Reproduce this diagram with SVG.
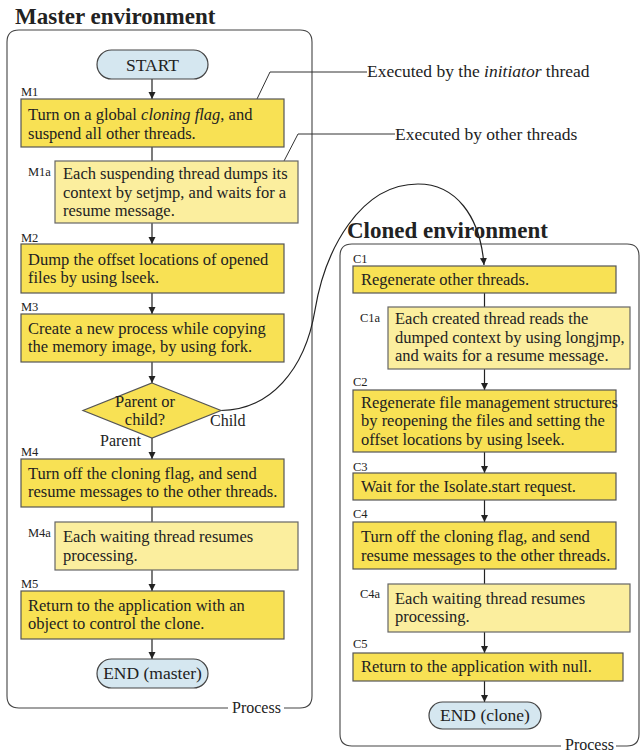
<svg xmlns="http://www.w3.org/2000/svg" width="640" height="754" viewBox="0 0 640 754" font-family="'Liberation Serif', Tinos, 'Times New Roman', serif">
<style>
text{font-family:"Liberation Serif",Tinos,"Times New Roman",serif;fill:#222}
.t{font-size:16.5px}
.lb{font-size:12.5px}
.h{font-size:23px;font-weight:bold}
.term{font-size:17.5px}
.co{font-size:17.5px}
.pr{font-size:16px}
.box{fill:#f8e154;stroke:#555;stroke-width:1.2}
.sub{fill:#fbee9e;stroke:#666;stroke-width:1.2}
.tm{fill:#d5e7f0;stroke:#444;stroke-width:1.2}
.env{fill:none;stroke:#444;stroke-width:1.1}
.ln{fill:none;stroke:#222;stroke-width:1.2}
.ar{fill:none;stroke:#222;stroke-width:1.2;marker-end:url(#a)}
.cl{fill:none;stroke:#333;stroke-width:1}
</style>
<defs>
<marker id="a" viewBox="0 0 10 10" refX="10" refY="5" markerWidth="7" markerHeight="9" markerUnits="userSpaceOnUse" orient="auto">
<path d="M0,0 L10,5 L0,10 z" fill="#222"/>
</marker>
</defs>
<rect width="640" height="754" fill="#fff"/>

<g id="master-env">
<text class="h" x="15" y="24">Master environment</text>
<path class="env" d="M228,708 H19 Q7,708 7,696 V42 Q7,30 19,30 H300 Q312,30 312,42 V696 Q312,708 300,708 H284"/>
<text class="pr" x="232" y="713">Process</text>
</g>

<g id="cloned-env">
<text class="h" x="347" y="238">Cloned environment</text>
<path class="env" d="M561,746 H352 Q340,746 340,734 V256 Q340,244 352,244 H627 Q639,244 639,256 V734 Q639,746 627,746 H616"/>
<text class="pr" x="565" y="750">Process</text>
</g>

<g id="connectors">
<line class="ar" x1="152" y1="79" x2="152" y2="99"/>
<line class="ln" x1="152" y1="147" x2="152" y2="161"/>
<line class="ar" x1="152" y1="223" x2="152" y2="244"/>
<line class="ar" x1="152" y1="293" x2="152" y2="314"/>
<line class="ar" x1="152" y1="362" x2="152" y2="383"/>
<line class="ar" x1="152" y1="438" x2="152" y2="459"/>
<line class="ln" x1="152" y1="507" x2="152" y2="522"/>
<line class="ar" x1="152" y1="570" x2="152" y2="591"/>
<line class="ar" x1="152" y1="639" x2="152" y2="659"/>
<line class="ln" x1="484.5" y1="293" x2="484.5" y2="307"/>
<line class="ar" x1="484.5" y1="369" x2="484.5" y2="390"/>
<line class="ar" x1="484.5" y1="452" x2="484.5" y2="473"/>
<line class="ar" x1="484.5" y1="500" x2="484.5" y2="522"/>
<line class="ln" x1="484.5" y1="569" x2="484.5" y2="584"/>
<line class="ar" x1="484.5" y1="632" x2="484.5" y2="653"/>
<line class="ar" x1="484.5" y1="681" x2="484.5" y2="702"/>
<path class="ar" d="M221,410.5 C270,410 305,370 315,310 C325,250 360,184 418,184 C455,184 480,215 484,265"/>
<path class="cl" d="M257,99 L270,72 H367"/>
<path class="cl" d="M284,161 L298,134 H395"/>
<text class="pr" x="100" y="446">Parent</text>
<text class="pr" x="210" y="426">Child</text>
</g>

<g id="callouts">
<text class="co" x="367" y="77">Executed by the <tspan font-style="italic">initiator</tspan> thread</text>
<text class="co" x="395" y="140">Executed by other threads</text>
</g>

<g id="start">
<rect class="tm" x="97" y="50" width="111" height="29" rx="14.5"/>
<text class="term" x="152.5" y="71" text-anchor="middle">START</text>
</g>

<g id="M1">
<text class="lb" x="21" y="96">M1</text>
<rect class="box" x="21" y="99" width="263" height="48"/>
<text class="t" x="28" y="120">Turn on a global <tspan font-style="italic">cloning flag</tspan>, and</text>
<text class="t" x="28" y="139">suspend all other threads.</text>
</g>

<g id="M1a">
<text class="lb" x="28" y="176">M1a</text>
<rect class="sub" x="55" y="161" width="243" height="62"/>
<text class="t" x="63" y="179">Each suspending thread dumps its</text>
<text class="t" x="63" y="198">context by setjmp, and waits for a</text>
<text class="t" x="63" y="216">resume message.</text>
</g>

<g id="M2">
<text class="lb" x="21" y="242">M2</text>
<rect class="box" x="21" y="244" width="263" height="49"/>
<text class="t" x="28" y="265">Dump the offset locations of opened</text>
<text class="t" x="28" y="283">files by using lseek.</text>
</g>

<g id="M3">
<text class="lb" x="21" y="311">M3</text>
<rect class="box" x="21" y="314" width="263" height="48"/>
<text class="t" x="28" y="334">Create a new process while copying</text>
<text class="t" x="28" y="352">the memory image, by using fork.</text>
</g>

<g id="decision">
<path class="box" d="M152,383 L221,410.5 L152,438 L83,410.5 Z"/>
<text class="t" x="145" y="407" text-anchor="middle">Parent or</text>
<text class="t" x="145" y="425" text-anchor="middle">child?</text>
</g>

<g id="M4">
<text class="lb" x="21" y="456">M4</text>
<rect class="box" x="21" y="459" width="263" height="48"/>
<text class="t" x="28" y="479">Turn off the cloning flag, and send</text>
<text class="t" x="28" y="497">resume messages to the other threads.</text>
</g>

<g id="M4a">
<text class="lb" x="28" y="537">M4a</text>
<rect class="sub" x="55" y="522" width="243" height="48"/>
<text class="t" x="63" y="542">Each waiting thread resumes</text>
<text class="t" x="63" y="561">processing.</text>
</g>

<g id="M5">
<text class="lb" x="21" y="588">M5</text>
<rect class="box" x="21" y="591" width="263" height="48"/>
<text class="t" x="28" y="611">Return to the application with an</text>
<text class="t" x="28" y="629">object to control the clone.</text>
</g>

<g id="end-master">
<rect class="tm" x="97" y="659" width="111" height="29" rx="14.5"/>
<text class="term" x="152.5" y="679" text-anchor="middle">END (master)</text>
</g>

<g id="C1">
<text class="lb" x="353" y="263">C1</text>
<rect class="box" x="353" y="266" width="263" height="27"/>
<text class="t" x="361" y="285">Regenerate other threads.</text>
</g>

<g id="C1a">
<text class="lb" x="360" y="322">C1a</text>
<rect class="sub" x="388" y="307" width="242" height="62"/>
<text class="t" x="395" y="324">Each created thread reads the</text>
<text class="t" x="395" y="343">dumped context by using longjmp,</text>
<text class="t" x="395" y="361">and waits for a resume message.</text>
</g>

<g id="C2">
<text class="lb" x="353" y="386">C2</text>
<rect class="box" x="353" y="390" width="263" height="62"/>
<text class="t" x="361" y="408">Regenerate file management structures</text>
<text class="t" x="361" y="426">by reopening the files and setting the</text>
<text class="t" x="361" y="445">offset locations by using lseek.</text>
</g>

<g id="C3">
<text class="lb" x="353" y="471">C3</text>
<rect class="box" x="353" y="473" width="263" height="27"/>
<text class="t" x="361" y="492">Wait for the Isolate.start request.</text>
</g>

<g id="C4">
<text class="lb" x="353" y="518">C4</text>
<rect class="box" x="353" y="522" width="263" height="47"/>
<text class="t" x="361" y="542">Turn off the cloning flag, and send</text>
<text class="t" x="361" y="561">resume messages to the other threads.</text>
</g>

<g id="C4a">
<text class="lb" x="360" y="598">C4a</text>
<rect class="sub" x="388" y="584" width="242" height="48"/>
<text class="t" x="395" y="604">Each waiting thread resumes</text>
<text class="t" x="395" y="622">processing.</text>
</g>

<g id="C5">
<text class="lb" x="353" y="648">C5</text>
<rect class="box" x="353" y="653" width="270" height="28"/>
<text class="t" x="361" y="672">Return to the application with null.</text>
</g>

<g id="end-clone">
<rect class="tm" x="429" y="702" width="112" height="27" rx="13.5"/>
<text class="term" x="485" y="721" text-anchor="middle">END (clone)</text>
</g>
</svg>
